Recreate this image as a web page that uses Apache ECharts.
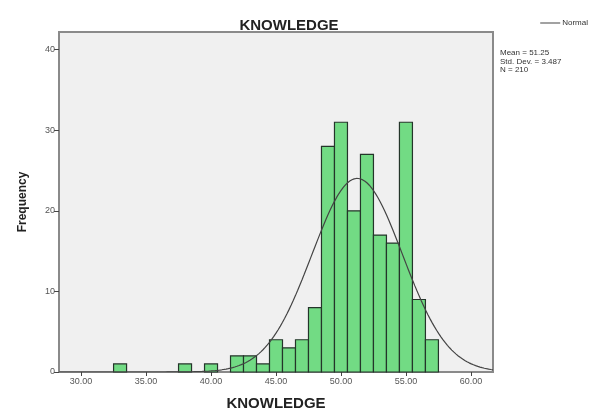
<!DOCTYPE html>
<html>
<head>
<meta charset="utf-8">
<script src="https://cdn.jsdelivr.net/npm/echarts@6/dist/echarts.min.js"></script>
<style>
html,body{margin:0;padding:0;background:#fff;}
#c{width:602px;height:408px;}
</style>
</head>
<body>
<div id="c"></div>
<script>
// Histogram bins (centre of 1-unit bins) and frequencies
const binCenters = [33, 38, 40, 42, 43, 44, 45, 46, 47, 48, 49, 50, 51, 52, 53, 54, 55, 56, 57];
const frequencies = [1, 1, 1, 2, 2, 1, 4, 3, 4, 8, 28, 31, 20, 27, 17, 16, 31, 9, 4];
const xTickValues = [30, 35, 40, 45, 50, 55, 60];
const yTickValues = [0, 10, 20, 30, 40];
// Stated statistics of the fitted normal curve
const MEAN = 51.25;
const SD = 3.487;
const N = 210;
const BIN_WIDTH = 1;
const X_MIN = 28.3, X_MAX = 61.7, Y_MAX = 42.2;

// Normal curve defined by the stated mean / sd / N (as drawn by the source program)
const normalCurve = [];
for (let i = 0; i <= 200; i++) {
  const x = X_MIN + (X_MAX - X_MIN) * i / 200;
  const z = (x - MEAN) / SD;
  normalCurve.push([x, N * BIN_WIDTH / (SD * Math.sqrt(2 * Math.PI)) * Math.exp(-0.5 * z * z)]);
}

const chart = echarts.init(document.getElementById('c'));
const font = 'Liberation Sans, Arial, sans-serif';
chart.setOption({
  animation: false,
  backgroundColor: '#fff',
  title: {
    text: 'KNOWLEDGE',
    left: 284, top: 13, textAlign: 'center',
    textStyle: {fontFamily: font, fontSize: 15, fontWeight: 'bold', color: '#222'}
  },
  legend: {
    right: 9, top: 14,
    itemWidth: 20, itemHeight: 8,
    itemGap: 4,
    textStyle: {fontFamily: font, fontSize: 8, color: '#333', padding: [0,0,0,-3]},
    data: [{name: 'Normal', icon: 'path://M0,0 L20,0 L20,1 L0,1 Z'}]
  },
  grid: {
    left: 59, right: 109, top: 32, bottom: 36,
    outerBoundsMode: 'none', containLabel: false,
    show: true, backgroundColor: '#f0f0f0',
    borderColor: '#8a8a8a', borderWidth: 2
  },
  xAxis: {
    type: 'value', min: X_MIN, max: X_MAX,
    name: 'KNOWLEDGE', nameLocation: 'middle', nameGap: 24,
    nameTextStyle: {fontFamily: font, fontSize: 15, fontWeight: 'bold', color: '#222'},
    axisLine: {show: true, onZero: false, lineStyle: {color: '#8a8a8a', width: 2}},
    axisTick: {show: true, customValues: xTickValues, length: 4, lineStyle: {color: '#444'}},
    axisLabel: {customValues: xTickValues, fontFamily: font, fontSize: 9, color: '#555', margin: 5,
      formatter: v => v.toFixed(2)},
    splitLine: {show: false}
  },
  yAxis: {
    type: 'value', min: 0, max: Y_MAX,
    name: 'Frequency', nameLocation: 'middle', nameGap: 30,
    nameTextStyle: {fontFamily: font, fontSize: 12, fontWeight: 'bold', color: '#222'},
    axisLine: {show: true, lineStyle: {color: '#8a8a8a', width: 2}},
    axisTick: {show: true, customValues: yTickValues, length: 5, lineStyle: {color: '#444'}},
    axisLabel: {customValues: yTickValues, fontFamily: font, fontSize: 9, color: '#555', margin: 4},
    splitLine: {show: false}
  },
  graphic: [{
    type: 'text', left: 500, top: 49,
    style: {
      text: 'Mean = ' + MEAN.toFixed(2) + '\nStd. Dev. = ' + SD.toFixed(3) + '\nN = ' + N,
      font: '8px ' + font, fill: '#333', lineHeight: 8.5
    }
  }],
  series: [{
    type: 'custom',
    name: 'Frequency',
    data: binCenters.map((c, i) => [c, frequencies[i]]),
    renderItem: function (params, api) {
      const c = api.value(0), f = api.value(1);
      const p0 = api.coord([c - BIN_WIDTH / 2, f]);
      const p1 = api.coord([c + BIN_WIDTH / 2, 0]);
      return {
        type: 'rect',
        shape: {x: p0[0], y: p0[1], width: p1[0] - p0[0], height: p1[1] - p0[1]},
        style: {fill: '#72db84', stroke: '#24352a', lineWidth: 1.2}
      };
    },
    z: 2
  }, {
    type: 'line',
    name: 'Normal',
    data: normalCurve,
    showSymbol: false, symbol: 'none', smooth: false,
    lineStyle: {color: '#444', width: 1.2},
    itemStyle: {color: '#444'},
    z: 3
  }]
});
</script>
</body>
</html>
